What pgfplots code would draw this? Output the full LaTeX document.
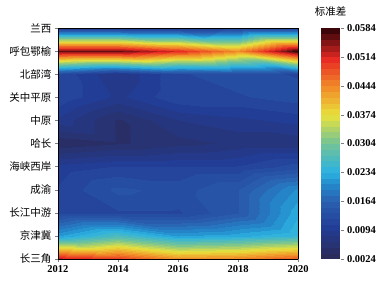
\documentclass[border=0pt]{standalone}
\usepackage{fontspec}
\setmainfont{Liberation Serif}
\newfontfamily\cjk{Noto Sans CJK SC}
\usepackage{pgfplots}
\pgfplotsset{compat=1.18}
\begin{document}
\begin{tikzpicture}
\begin{axis}[
  name=ax,
  scale only axis, width=240pt, height=231pt,
  view={0}{90},
  xmin=2012, xmax=2020, ymin=0, ymax=10,
  xtick={2012,2014,2016,2018,2020},
  ytick={0,1,2,3,4,5,6,7,8,9,10},
  yticklabels={长三角,京津冀,长江中游,成渝,海峡西岸,哈长,中原,关中平原,北部湾,呼包鄂榆,兰西},
  yticklabel style={font=\cjk\fontsize{10.5}{11}\selectfont},
  xticklabel style={font=\bfseries\fontsize{10.5}{11}\selectfont, /pgf/number format/1000 sep={}},
  /pgf/number format/assume math mode=true,
  tick align=outside, tick pos=left,
  major tick length=3pt,
  axis line style={line width=0.8pt},
  colormap={ref}{
    rgb255(0)=(43,44,90)
    rgb255(7)=(34,60,148)
    rgb255(14)=(42,98,178)
    rgb255(18)=(36,140,205)
    rgb255(21)=(45,178,225)
    rgb255(28)=(115,195,150)
    rgb255(35)=(232,225,60)
    rgb255(42)=(242,140,40)
    rgb255(49)=(232,42,36)
    rgb255(56)=(60,5,10)
  },
  point meta min=0.0024, point meta max=0.0584,
  colorbar,
  colorbar style={
    width=20pt,
    at={(parent axis.north east)}, anchor=north west, xshift=14pt,
    ytick={0.0024,0.0094,0.0164,0.0234,0.0304,0.0374,0.0444,0.0514,0.0584},
    scaled y ticks=false,
    /pgf/number format/assume math mode=true,
    yticklabel style={font=\bfseries\fontsize{10.5}{11}\selectfont, /pgf/number format/.cd, fixed, precision=4, fixed zerofill},
    ytick pos=right, tick align=outside, major tick length=3pt,
    xtick=\empty,
    axis line style={draw=none},
    title={\cjk\fontsize{10.5}{11}\selectfont 标准差},
    title style={yshift=2pt},
  },
]
\addplot3[contour filled={number=40}, mesh/rows=11, mesh/cols=5] table {
x y z
2012 0 0.053
2014 0 0.050
2016 0 0.044
2018 0 0.045
2020 0 0.048
2012 1 0.022
2014 1 0.027
2016 1 0.022
2018 1 0.023
2020 1 0.025
2012 2 0.012
2014 2 0.012
2016 2 0.012
2018 2 0.015
2020 2 0.023
2012 3 0.011
2014 3 0.014
2016 3 0.013
2018 3 0.015
2020 3 0.021
2012 4 0.010
2014 4 0.011
2016 4 0.011
2018 4 0.011
2020 4 0.013
2012 5 0.004
2014 5 0.005
2016 5 0.006
2018 5 0.007
2020 5 0.007
2012 6 0.009
2014 6 0.005
2016 6 0.008
2018 6 0.009
2020 6 0.010
2012 7 0.012
2014 7 0.009
2016 7 0.012
2018 7 0.012
2020 7 0.013
2012 8 0.012
2014 8 0.008
2016 8 0.012
2018 8 0.013
2020 8 0.012
2012 9 0.056
2014 9 0.056
2016 9 0.051
2018 9 0.044
2020 9 0.0584
2012 10 0.010
2014 10 0.010
2016 10 0.010
2018 10 0.011
2020 10 0.011
};
\end{axis}
\pgfresetboundingbox
\path (-58pt,-24pt) rectangle (333pt,259pt);
\end{tikzpicture}
\end{document}
